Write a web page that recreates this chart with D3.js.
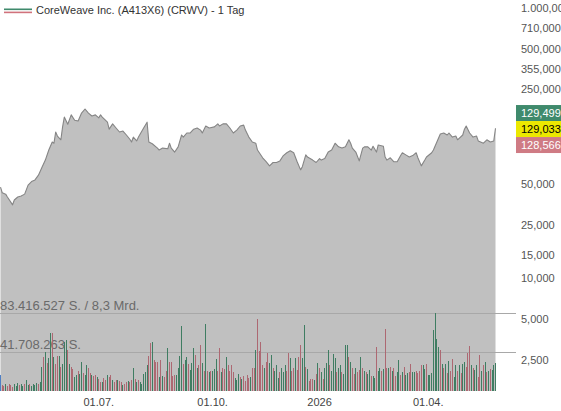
<!DOCTYPE html>
<html>
<head>
<meta charset="utf-8">
<script src="https://cdn.jsdelivr.net/npm/d3@7"></script>
<style>
  html, body { margin: 0; padding: 0; background: #fff; }
  svg { display: block; font-family: Arial, "Liberation Sans", sans-serif; }
</style>
</head>
<body>
<svg id="chart" width="561" height="411"></svg>
<script>
// ---------- Daten ----------
const title = 'CoreWeave Inc. (A413X6) (CRWV) - 1 Tag';

// Handelstag (Index) und Schlusskurs
const priceDay = [0, 1, 3, 4, 7, 8, 10, 12, 14, 16, 18, 20, 22, 24, 26, 28, 30, 31, 32, 33, 35, 36, 37, 39,
  41, 43, 45, 47, 49, 51, 53, 55, 57, 58, 59, 62, 63, 65, 67, 69, 71, 73, 75, 76, 77, 79, 80, 83, 85, 86,
  88, 91, 92, 94, 97, 98, 99, 101, 103, 105, 106, 108, 110, 112, 114, 116, 117, 119, 121, 124, 126, 127,
  129, 131, 133, 135, 137, 139, 141, 142, 144, 146, 148, 149, 152, 154, 156, 158, 160, 162, 164, 166, 168,
  170, 172, 174, 175, 177, 178, 181, 183, 185, 186, 188, 190, 192, 194, 196, 198, 200, 202, 203, 204, 206,
  208, 210, 211, 213, 215, 216, 218, 219, 222, 223, 224, 226, 228, 230, 232, 233, 235, 237, 239, 241, 242,
  244, 246, 247, 250, 251, 253, 255, 257, 259, 260, 262, 264, 265, 268, 269, 270, 272, 274, 276, 277, 280,
  282, 284, 286, 287];
const priceVal = [47.4, 43, 42, 40, 35, 38, 40, 40.7, 42, 49, 52, 53.5, 58, 66, 75, 89, 102, 100, 121, 113, 106, 132, 156, 138,
  162, 148, 146, 167, 179, 167, 159, 162, 154, 162, 156, 143, 127, 139, 129.5, 121, 123, 115, 107, 102, 111, 104, 111, 129.5, 143, 102,
  99, 92, 89, 92, 91, 100, 92, 86, 94, 115, 111, 119, 119, 127, 129.5, 125, 119, 134, 129.5, 132, 139, 134,
  139, 139, 129.5, 119, 125, 134, 136, 125, 111, 102, 100, 89, 78, 73, 68, 72, 72, 74, 81, 85, 88,
  85, 73, 63.5, 67, 82, 79, 75, 72, 77, 75, 77, 86, 89, 100, 94, 92, 94, 106, 100, 92, 86,
  74, 92, 94, 94, 89, 95, 86, 97, 95, 79, 75, 78, 73, 73, 81, 85, 82, 79, 81, 85, 78,
  68, 75, 79, 85, 89, 102, 117, 119, 115, 119, 111, 113, 106, 115, 127, 134, 119, 111, 113, 104, 100,
  106, 102, 104, 129];

// Tagesumsatz in Mio. Stück, ein Wert je Handelstag
const volume = [
  17, 6, 5, 7, 5, 8, 6, 4, 7, 5,
  9, 6, 7, 5, 8, 12, 6, 7, 5, 8,
  6, 9, 7, 10, 26, 36, 42, 30, 35, 62,
  62, 36, 29, 38, 38, 26, 29, 53, 55, 44,
  29, 26, 24, 15, 17, 21, 18, 31, 19, 17,
  28, 25, 19, 17, 16, 17, 15, 13, 10, 10,
  14, 12, 17, 15, 17, 12, 10, 12, 12, 11,
  10, 6, 8, 10, 11, 10, 12, 25, 13, 10,
  12, 10, 8, 18, 20, 28, 38, 51, 53, 33,
  31, 31, 15, 33, 16, 15, 22, 46, 31, 31,
  16, 17, 17, 25, 38, 70, 29, 33, 36, 29,
  23, 30, 46, 39, 25, 28, 49, 30, 22, 72,
  22, 20, 22, 21, 24, 34, 22, 46, 20, 25,
  24, 36, 28, 22, 28, 20, 14, 12, 18, 15,
  13, 16, 11, 17, 14, 15, 25, 25, 44, 77,
  43, 53, 28, 25, 31, 41, 30, 39, 25, 22,
  28, 14, 20, 25, 20, 28, 22, 41, 35, 22,
  25, 35, 23, 37, 49, 35, 71, 26, 24, 11,
  13, 13, 12, 18, 30, 25, 20, 13, 25, 30,
  44, 28, 22, 40, 35, 20, 25, 28, 20, 18,
  49, 49, 37, 31, 25, 18, 25, 20, 23, 37,
  25, 22, 20, 18, 23, 16, 16, 14, 47, 22,
  25, 22, 24, 67, 25, 25, 26, 22, 25, 16,
  20, 33, 17, 20, 26, 17, 19, 20, 29, 20,
  20, 22, 19, 22, 28, 28, 24, 29, 17, 17,
  19, 65, 83.4, 56, 47, 44, 29, 25, 29, 19,
  32, 22, 34, 15, 28, 22, 28, 19, 29, 31,
  26, 41, 48, 28, 25, 23, 28, 15, 39, 22,
  28, 31, 20, 22, 24, 23, 28, 30
];
// g = Plus-Tag, r = Minus-Tag, b = erster Tag
const volDir =
  'brrgrrrrgg' + 'grggrggrgg' + 'ggrggrgrgg' + 'rgrrgrgggr' + 'grrggrggrg' +
  'grrgrrgrrg' + 'rrgrrgrrgr' + 'rgrrgrrgrg' + 'rgggggrrgr' + 'rrgrgrrgrr' +
  'rrggggrggr' + 'gggrgrrgrg' + 'rgrgggrrgr' + 'rgrrrrgggr' + 'grrrrgrrgr' +
  'rrrgrrggrg' + 'ggrgggrrgr' + 'rgrrrggrgr' + 'rrgrgrgrgg' + 'grgggrggrg' +
  'ggrgrrgrrg' + 'rgrggrggrg' + 'grgrrgrgrr' + 'ggrgrggrrg' + 'grrrrggrgg' +
  'gggggrgrgr' + 'grrggrgrgg' + 'rrrgrggrrg' + 'rgrgrggg';

const xTickDays   = [57, 123, 185, 248];
const xTickLabels = ['01.07.', '01.10.', '2026', '01.04.'];
const yTickValues = [1000, 710, 500, 355, 250, 50, 25, 15, 10, 5, 2.5];

const volLineValues = [83.416527, 41.708263];
const volLineLabels = ['83.416.527 S. / 8,3 Mrd.', '41.708.263 S.'];

const quoteLabels = ['129,499', '129,033', '128,566'];
const quoteBg     = ['#3f8a6c', '#ece800', '#cf7b84'];
const quoteFg     = ['#fff', '#000', '#fff'];
const lastPrice   = 129.033;

// ---------- Layout ----------
const W = 561, H = 411;
const plotRight = 496, plotBottom = 391;
const axisX = 521;

const svg = d3.select('#chart');

const x = d3.scaleLinear().domain([0, volume.length - 1]).range([0.5, 495.5]);
const y = d3.scaleLog().domain([2.5, 1000]).range([359.8, 8]);
const yVol = d3.scaleLinear().domain([0, 83.416527]).range([plotBottom, 313.3]);

const de = d3.formatLocale({ decimal: ',', thousands: '.', grouping: [3], currency: ['', ' €'] });
const fmt = de.format(',.3f');

const price = priceDay.map((d, i) => ({ day: d, v: priceVal[i] }));

svg.append('defs').append('clipPath').attr('id', 'plotclip')
  .append('rect').attr('x', 0).attr('y', 0).attr('width', plotRight).attr('height', plotBottom);

// ---------- Kursfläche ----------
const plot = svg.append('g').attr('clip-path', 'url(#plotclip)');

plot.append('path')
  .datum(price)
  .attr('fill', '#c0c0c0')
  .attr('d', d3.area().x(d => x(d.day)).y0(plotBottom).y1(d => y(d.v)));

plot.append('path')
  .datum(price)
  .attr('fill', 'none')
  .attr('stroke', '#858585')
  .attr('stroke-width', 1.1)
  .attr('stroke-linejoin', 'round')
  .attr('d', d3.line().x(d => x(d.day)).y(d => y(d.v)));

// ---------- Umsatz-Linien ----------
svg.selectAll('line.vol')
  .data(volLineValues)
  .join('line')
  .attr('class', 'vol')
  .attr('x1', 0).attr('x2', 516)
  .attr('y1', d => Math.round(yVol(d)) + 0.5)
  .attr('y2', d => Math.round(yVol(d)) + 0.5)
  .attr('stroke', '#a8a8a8')
  .attr('stroke-width', 1);

svg.selectAll('text.vol')
  .data(volLineValues)
  .join('text')
  .attr('class', 'vol')
  .attr('x', 0)
  .attr('y', d => yVol(d) - 3)
  .attr('font-size', 13)
  .attr('fill', '#6a6a6a')
  .text((d, i) => volLineLabels[i]);

// ---------- Umsatz-Balken ----------
const barColor = { g: '#3f7d62', r: '#ad6872', b: '#4f7fc4' };
svg.append('g')
  .attr('shape-rendering', 'crispEdges')
  .selectAll('rect')
  .data(volume)
  .join('rect')
  .attr('x', (d, i) => Math.max(0, Math.round(x(i) - 0.5)))
  .attr('width', 1)
  .attr('y', d => yVol(d))
  .attr('height', d => plotBottom - yVol(d))
  .attr('fill', (d, i) => barColor[volDir[i]]);

// ---------- Achsen ----------
svg.selectAll('text.ytick')
  .data(yTickValues)
  .join('text')
  .attr('class', 'ytick')
  .attr('x', axisX)
  .attr('y', d => y(d) + 4)
  .attr('font-size', 11)
  .attr('fill', '#555')
  .text(d => fmt(d));

svg.selectAll('text.xtick')
  .data(xTickDays)
  .join('text')
  .attr('class', 'xtick')
  .attr('x', d => x(d))
  .attr('y', 406)
  .attr('text-anchor', 'middle')
  .attr('font-size', 11)
  .attr('fill', '#444')
  .text((d, i) => xTickLabels[i]);

// ---------- Kursboxen ----------
const boxH = 16;
const yMid = y(lastPrice) + 0.8;
const boxes = svg.selectAll('g.quote')
  .data(quoteLabels)
  .join('g')
  .attr('class', 'quote')
  .attr('transform', (d, i) => `translate(516,${yMid - boxH / 2 + (i - 1) * boxH})`);
boxes.append('rect')
  .attr('width', W - 516).attr('height', boxH)
  .attr('fill', (d, i) => quoteBg[i]);
boxes.append('text')
  .attr('x', axisX - 516).attr('y', 12)
  .attr('font-size', 11)
  .attr('fill', (d, i) => quoteFg[i])
  .text(d => d);

// ---------- Legende ----------
svg.append('rect').attr('x', 4).attr('y', 8.5).attr('width', 28).attr('height', 1.6).attr('fill', '#3f8a6c');
svg.append('rect').attr('x', 4).attr('y', 11.6).attr('width', 28).attr('height', 1.6).attr('fill', '#d0727c');
svg.append('text')
  .attr('x', 36).attr('y', 14)
  .attr('font-size', 11)
  .attr('fill', '#333')
  .text(title);
</script>
</body>
</html>
